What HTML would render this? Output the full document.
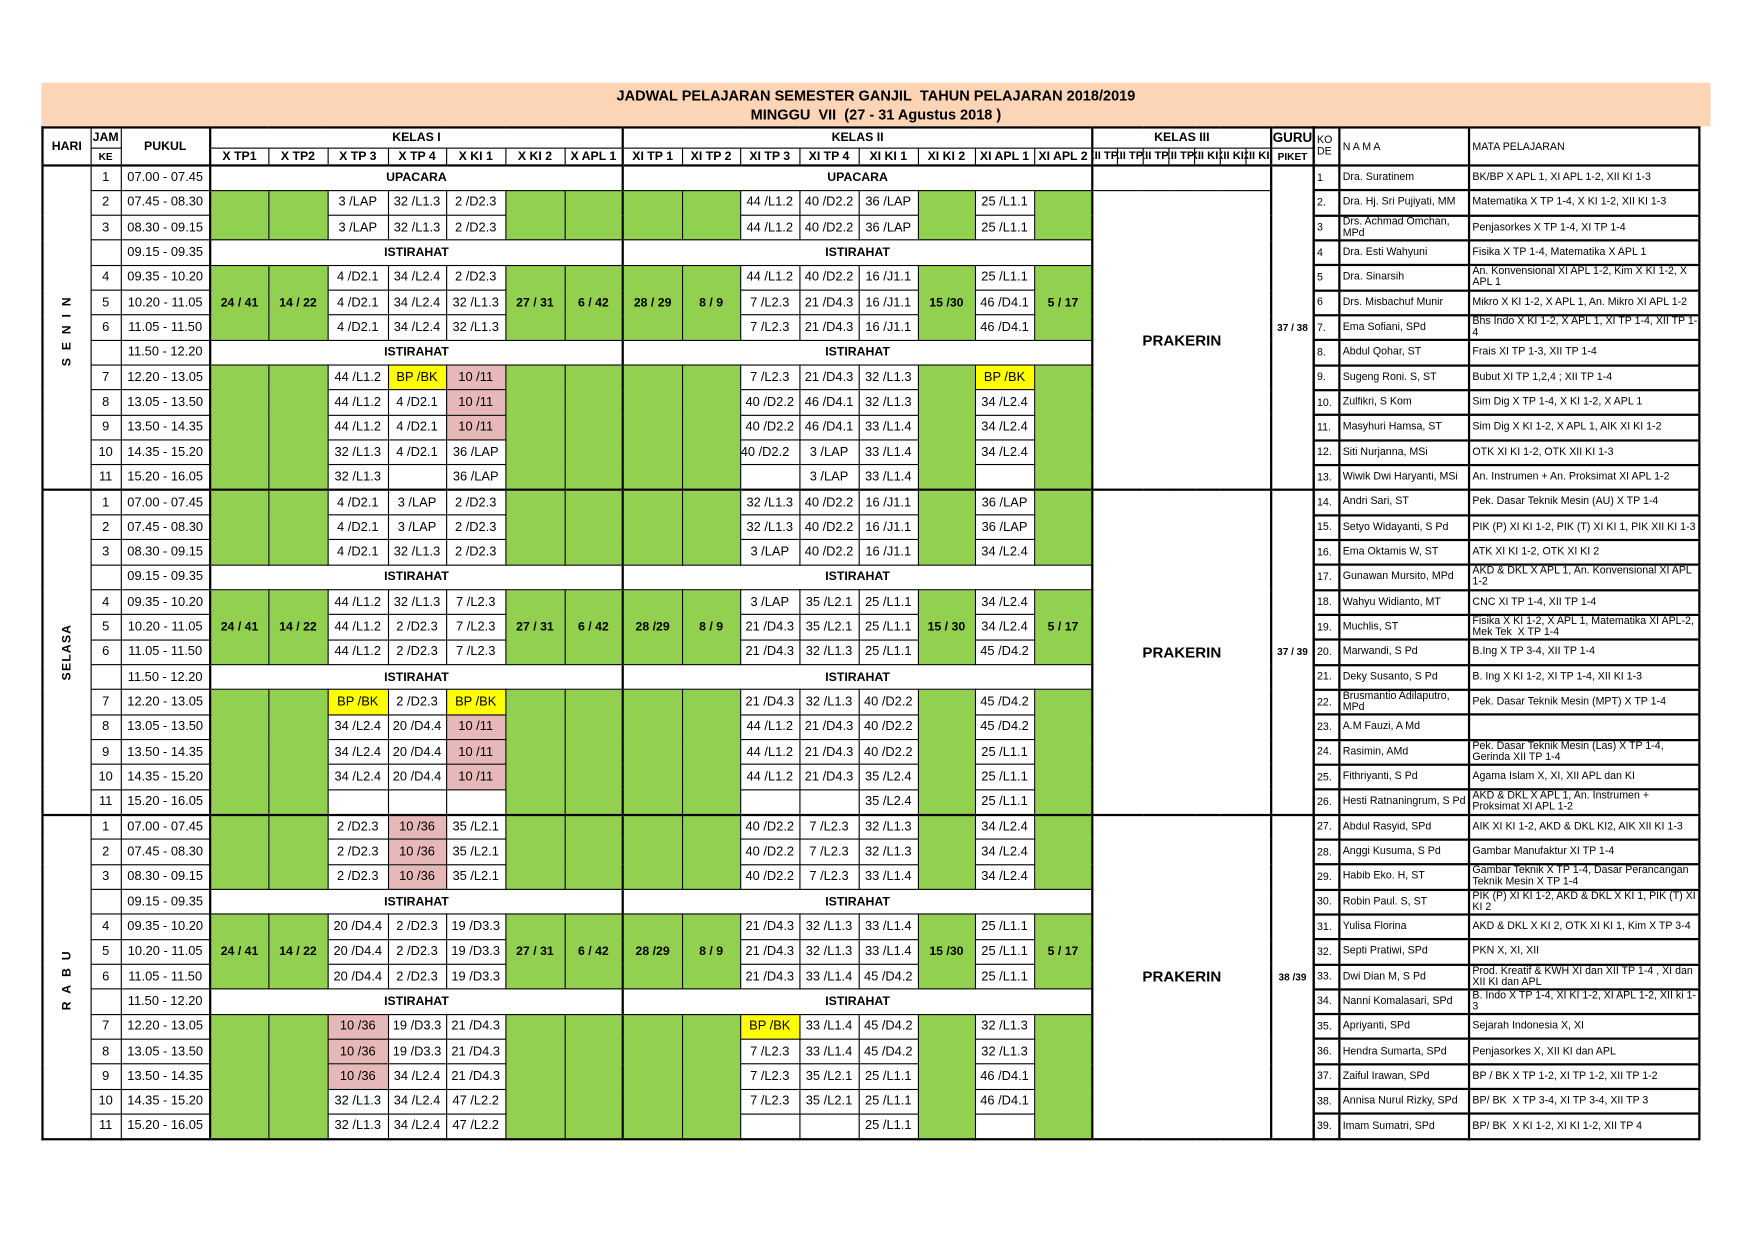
<!DOCTYPE html>
<html><head><meta charset="utf-8">
<style>
html,body{margin:0;padding:0;background:#fff;}
#w{position:absolute;left:0;top:0;width:1568px;height:1109px;transform:scale(1.118);transform-origin:0 0;font-family:"Liberation Sans Narrow","Liberation Sans",sans-serif;}
#band{position:absolute;left:37px;top:74px;width:1493px;height:39px;background:#fbd5b5;}
#t1{position:absolute;left:37px;width:1493px;top:78px;text-align:center;font:bold 13px "Liberation Sans",sans-serif;}
#t2{position:absolute;left:37px;width:1493px;top:95px;text-align:center;font:bold 13px "Liberation Sans",sans-serif;}
table{position:absolute;border-collapse:collapse;table-layout:fixed;}
table.m{left:37px;top:113px;width:1137px;font-size:11.5px;border:2px solid #000;}
table.m td{border:1px solid #000;padding:0;text-align:center;overflow:hidden;white-space:nowrap;}
table.m tr{height:22.33px;}
table.m tr.h1{height:18px;} table.m tr.h2{height:16px;}
.g{background:#92d050}.y{background:#ffff00}.p{background:#e6b8b7}
.b{font-weight:bold;font-family:"Liberation Sans",sans-serif;font-size:11px;}
table.m td.L{border-left:2px solid #000;}
table.m tr.d td{border-top:2px solid #000;}
table.m tr.h2 td{border-bottom:2px solid #000;}
.sm{font-size:9px;font-weight:bold;font-family:"Liberation Sans",sans-serif;}
.k3{font-size:10px;font-weight:bold;}
.k3 div{width:40px;margin-left:-9px;}
.v{writing-mode:vertical-rl;transform:rotate(180deg);margin:auto;font-weight:bold;font-family:"Liberation Sans",sans-serif;font-size:11px;}
.pk{font-size:9px;font-weight:bold;font-family:"Liberation Sans",sans-serif;}
.pr{font-size:13.5px;}
table.t{left:1174px;top:113px;width:345px;font:9.5px "Liberation Sans",sans-serif;border:2px solid #000;}
table.t td{border:1px solid #000;border-bottom:2px solid #000;padding:0 0 0 2px;text-align:left;vertical-align:middle;overflow:hidden;}
table.t td div{max-height:21px;overflow:hidden;line-height:10px;}
table.t tr{height:22.33px;}
table.t td.c2{border-left:2px solid #000;border-right:2px solid #000;}
</style></head><body><div id="w">
<div id="band"></div>
<div id="t1">JADWAL PELAJARAN SEMESTER GANJIL&nbsp; TAHUN PELAJARAN 2018/2019</div>
<div id="t2">MINGGU&nbsp; VII&nbsp; (27 - 31 Agustus 2018 )</div>

<table class="m">
<colgroup><col style="width:43px"><col style="width:27px"><col style="width:80px">
<col style="width:52px"><col style="width:53px"><col style="width:54px"><col style="width:52px"><col style="width:53px"><col style="width:53px"><col style="width:52px">
<col style="width:53px"><col style="width:52px"><col style="width:53px"><col style="width:53px"><col style="width:53px"><col style="width:51px"><col style="width:53px"><col style="width:52px">
<col style="width:22.86px"><col style="width:22.86px"><col style="width:22.86px"><col style="width:22.86px"><col style="width:22.86px"><col style="width:22.86px"><col style="width:22.84px">
<col style="width:38px"></colgroup>
<tr class="h1"><td rowspan="2" class="b">HARI</td><td class="b">JAM</td><td rowspan="2" class="b">PUKUL</td><td colspan="7" class="b L">KELAS I</td><td colspan="8" class="b L">KELAS II</td><td colspan="7" class="b L">KELAS III</td><td class="b L" style="font-size:12px">GURU</td></tr>
<tr class="h2"><td class="sm">KE</td><td class="b L">X TP1</td><td class="b">X TP2</td><td class="b">X TP 3</td><td class="b">X TP 4</td><td class="b">X KI 1</td><td class="b">X KI 2</td><td class="b">X APL 1</td><td class="b L">XI TP 1</td><td class="b">XI TP 2</td><td class="b">XI TP 3</td><td class="b">XI TP 4</td><td class="b">XI KI 1</td><td class="b">XI KI 2</td><td class="b">XI APL 1</td><td class="b">XI APL 2</td><td class="k3 L"><div>XII TP1</div></td><td class="k3"><div>XII TP2</div></td><td class="k3"><div>XII TP3</div></td><td class="k3"><div>XII TP4</div></td><td class="k3"><div>XII KI1</div></td><td class="k3"><div>XII KI2</div></td><td class="k3"><div>XII KI3</div></td><td class="sm L">PIKET</td></tr>

<!-- SENIN -->
<tr class="d"><td rowspan="13"><div class="v" style="letter-spacing:7px">SENIN</div></td><td>1</td><td>07.00 - 07.45</td><td colspan="7" class="b L">UPACARA</td><td colspan="8" class="b L">UPACARA</td><td colspan="7" class="L"></td><td rowspan="13" class="L pk">37 / 38</td></tr>
<tr><td>2</td><td>07.45 - 08.30</td><td rowspan="2" class="g L"></td><td rowspan="2" class="g"></td><td>3 /LAP</td><td>32 /L1.3</td><td>2 /D2.3</td><td rowspan="2" class="g"></td><td rowspan="2" class="g"></td><td rowspan="2" class="g L"></td><td rowspan="2" class="g"></td><td>44 /L1.2</td><td>40 /D2.2</td><td>36 /LAP</td><td rowspan="2" class="g"></td><td>25 /L1.1</td><td rowspan="2" class="g"></td><td colspan="7" rowspan="12" class="L b pr">PRAKERIN</td></tr>
<tr><td>3</td><td>08.30 - 09.15</td><td>3 /LAP</td><td>32 /L1.3</td><td>2 /D2.3</td><td>44 /L1.2</td><td>40 /D2.2</td><td>36 /LAP</td><td>25 /L1.1</td></tr>
<tr><td></td><td>09.15 - 09.35</td><td colspan="7" class="b L">ISTIRAHAT</td><td colspan="8" class="b L">ISTIRAHAT</td></tr>
<tr><td>4</td><td>09.35 - 10.20</td><td rowspan="3" class="g L b">24 / 41</td><td rowspan="3" class="g b">14 / 22</td><td>4 /D2.1</td><td>34 /L2.4</td><td>2 /D2.3</td><td rowspan="3" class="g b">27 / 31</td><td rowspan="3" class="g b">6 / 42</td><td rowspan="3" class="g L b">28 / 29</td><td rowspan="3" class="g b">8 / 9</td><td>44 /L1.2</td><td>40 /D2.2</td><td>16 /J1.1</td><td rowspan="3" class="g b">15 /30</td><td>25 /L1.1</td><td rowspan="3" class="g b">5 / 17</td></tr>
<tr><td>5</td><td>10.20 - 11.05</td><td>4 /D2.1</td><td>34 /L2.4</td><td>32 /L1.3</td><td>7 /L2.3</td><td>21 /D4.3</td><td>16 /J1.1</td><td>46 /D4.1</td></tr>
<tr><td>6</td><td>11.05 - 11.50</td><td>4 /D2.1</td><td>34 /L2.4</td><td>32 /L1.3</td><td>7 /L2.3</td><td>21 /D4.3</td><td>16 /J1.1</td><td>46 /D4.1</td></tr>
<tr><td></td><td>11.50 - 12.20</td><td colspan="7" class="b L">ISTIRAHAT</td><td colspan="8" class="b L">ISTIRAHAT</td></tr>
<tr><td>7</td><td>12.20 - 13.05</td><td rowspan="5" class="g L"></td><td rowspan="5" class="g"></td><td>44 /L1.2</td><td class="y">BP /BK</td><td class="p">10 /11</td><td rowspan="5" class="g"></td><td rowspan="5" class="g"></td><td rowspan="5" class="g L"></td><td rowspan="5" class="g"></td><td>7 /L2.3</td><td>21 /D4.3</td><td>32 /L1.3</td><td rowspan="5" class="g"></td><td class="y">BP /BK</td><td rowspan="5" class="g"></td></tr>
<tr><td>8</td><td>13.05 - 13.50</td><td>44 /L1.2</td><td>4 /D2.1</td><td class="p">10 /11</td><td>40 /D2.2</td><td>46 /D4.1</td><td>32 /L1.3</td><td>34 /L2.4</td></tr>
<tr><td>9</td><td>13.50 - 14.35</td><td>44 /L1.2</td><td>4 /D2.1</td><td class="p">10 /11</td><td>40 /D2.2</td><td>46 /D4.1</td><td>33 /L1.4</td><td>34 /L2.4</td></tr>
<tr><td>10</td><td>14.35 - 15.20</td><td>32 /L1.3</td><td>4 /D2.1</td><td>36 /LAP</td><td style="text-align:left">40 /D2.2</td><td>3 /LAP</td><td>33 /L1.4</td><td>34 /L2.4</td></tr>
<tr><td>11</td><td>15.20 - 16.05</td><td>32 /L1.3</td><td></td><td>36 /LAP</td><td></td><td>3 /LAP</td><td>33 /L1.4</td><td></td></tr>

<!-- SELASA -->
<tr class="d"><td rowspan="13"><div class="v" style="letter-spacing:1px">SELASA</div></td><td>1</td><td>07.00 - 07.45</td><td rowspan="3" class="g L"></td><td rowspan="3" class="g"></td><td>4 /D2.1</td><td>3 /LAP</td><td>2 /D2.3</td><td rowspan="3" class="g"></td><td rowspan="3" class="g"></td><td rowspan="3" class="g L"></td><td rowspan="3" class="g"></td><td>32 /L1.3</td><td>40 /D2.2</td><td>16 /J1.1</td><td rowspan="3" class="g"></td><td>36 /LAP</td><td rowspan="3" class="g"></td><td colspan="7" rowspan="13" class="L b pr">PRAKERIN</td><td rowspan="13" class="L pk">37 / 39</td></tr>
<tr><td>2</td><td>07.45 - 08.30</td><td>4 /D2.1</td><td>3 /LAP</td><td>2 /D2.3</td><td>32 /L1.3</td><td>40 /D2.2</td><td>16 /J1.1</td><td>36 /LAP</td></tr>
<tr><td>3</td><td>08.30 - 09.15</td><td>4 /D2.1</td><td>32 /L1.3</td><td>2 /D2.3</td><td>3 /LAP</td><td>40 /D2.2</td><td>16 /J1.1</td><td>34 /L2.4</td></tr>
<tr><td></td><td>09.15 - 09.35</td><td colspan="7" class="b L">ISTIRAHAT</td><td colspan="8" class="b L">ISTIRAHAT</td></tr>
<tr><td>4</td><td>09.35 - 10.20</td><td rowspan="3" class="g L b">24 / 41</td><td rowspan="3" class="g b">14 / 22</td><td>44 /L1.2</td><td>32 /L1.3</td><td>7 /L2.3</td><td rowspan="3" class="g b">27 / 31</td><td rowspan="3" class="g b">6 / 42</td><td rowspan="3" class="g L b">28 /29</td><td rowspan="3" class="g b">8 / 9</td><td>3 /LAP</td><td>35 /L2.1</td><td>25 /L1.1</td><td rowspan="3" class="g b">15 / 30</td><td>34 /L2.4</td><td rowspan="3" class="g b">5 / 17</td></tr>
<tr><td>5</td><td>10.20 - 11.05</td><td>44 /L1.2</td><td>2 /D2.3</td><td>7 /L2.3</td><td>21 /D4.3</td><td>35 /L2.1</td><td>25 /L1.1</td><td>34 /L2.4</td></tr>
<tr><td>6</td><td>11.05 - 11.50</td><td>44 /L1.2</td><td>2 /D2.3</td><td>7 /L2.3</td><td>21 /D4.3</td><td>32 /L1.3</td><td>25 /L1.1</td><td>45 /D4.2</td></tr>
<tr><td></td><td>11.50 - 12.20</td><td colspan="7" class="b L">ISTIRAHAT</td><td colspan="8" class="b L">ISTIRAHAT</td></tr>
<tr><td>7</td><td>12.20 - 13.05</td><td rowspan="5" class="g L"></td><td rowspan="5" class="g"></td><td class="y">BP /BK</td><td>2 /D2.3</td><td class="y">BP /BK</td><td rowspan="5" class="g"></td><td rowspan="5" class="g"></td><td rowspan="5" class="g L"></td><td rowspan="5" class="g"></td><td>21 /D4.3</td><td>32 /L1.3</td><td>40 /D2.2</td><td rowspan="5" class="g"></td><td>45 /D4.2</td><td rowspan="5" class="g"></td></tr>
<tr><td>8</td><td>13.05 - 13.50</td><td>34 /L2.4</td><td>20 /D4.4</td><td class="p">10 /11</td><td>44 /L1.2</td><td>21 /D4.3</td><td>40 /D2.2</td><td>45 /D4.2</td></tr>
<tr><td>9</td><td>13.50 - 14.35</td><td>34 /L2.4</td><td>20 /D4.4</td><td class="p">10 /11</td><td>44 /L1.2</td><td>21 /D4.3</td><td>40 /D2.2</td><td>25 /L1.1</td></tr>
<tr><td>10</td><td>14.35 - 15.20</td><td>34 /L2.4</td><td>20 /D4.4</td><td class="p">10 /11</td><td>44 /L1.2</td><td>21 /D4.3</td><td>35 /L2.4</td><td>25 /L1.1</td></tr>
<tr><td>11</td><td>15.20 - 16.05</td><td></td><td></td><td></td><td></td><td></td><td>35 /L2.4</td><td>25 /L1.1</td></tr>

<!-- RABU -->
<tr class="d"><td rowspan="13"><div class="v" style="letter-spacing:7px">RABU</div></td><td>1</td><td>07.00 - 07.45</td><td rowspan="3" class="g L"></td><td rowspan="3" class="g"></td><td>2 /D2.3</td><td class="p">10 /36</td><td>35 /L2.1</td><td rowspan="3" class="g"></td><td rowspan="3" class="g"></td><td rowspan="3" class="g L"></td><td rowspan="3" class="g"></td><td>40 /D2.2</td><td>7 /L2.3</td><td>32 /L1.3</td><td rowspan="3" class="g"></td><td>34 /L2.4</td><td rowspan="3" class="g"></td><td colspan="7" rowspan="13" class="L b pr">PRAKERIN</td><td rowspan="13" class="L pk">38 /39</td></tr>
<tr><td>2</td><td>07.45 - 08.30</td><td>2 /D2.3</td><td class="p">10 /36</td><td>35 /L2.1</td><td>40 /D2.2</td><td>7 /L2.3</td><td>32 /L1.3</td><td>34 /L2.4</td></tr>
<tr><td>3</td><td>08.30 - 09.15</td><td>2 /D2.3</td><td class="p">10 /36</td><td>35 /L2.1</td><td>40 /D2.2</td><td>7 /L2.3</td><td>33 /L1.4</td><td>34 /L2.4</td></tr>
<tr><td></td><td>09.15 - 09.35</td><td colspan="7" class="b L">ISTIRAHAT</td><td colspan="8" class="b L">ISTIRAHAT</td></tr>
<tr><td>4</td><td>09.35 - 10.20</td><td rowspan="3" class="g L b">24 / 41</td><td rowspan="3" class="g b">14 / 22</td><td>20 /D4.4</td><td>2 /D2.3</td><td>19 /D3.3</td><td rowspan="3" class="g b">27 / 31</td><td rowspan="3" class="g b">6 / 42</td><td rowspan="3" class="g L b">28 /29</td><td rowspan="3" class="g b">8 / 9</td><td>21 /D4.3</td><td>32 /L1.3</td><td>33 /L1.4</td><td rowspan="3" class="g b">15 /30</td><td>25 /L1.1</td><td rowspan="3" class="g b">5 / 17</td></tr>
<tr><td>5</td><td>10.20 - 11.05</td><td>20 /D4.4</td><td>2 /D2.3</td><td>19 /D3.3</td><td>21 /D4.3</td><td>32 /L1.3</td><td>33 /L1.4</td><td>25 /L1.1</td></tr>
<tr><td>6</td><td>11.05 - 11.50</td><td>20 /D4.4</td><td>2 /D2.3</td><td>19 /D3.3</td><td>21 /D4.3</td><td>33 /L1.4</td><td>45 /D4.2</td><td>25 /L1.1</td></tr>
<tr><td></td><td>11.50 - 12.20</td><td colspan="7" class="b L">ISTIRAHAT</td><td colspan="8" class="b L">ISTIRAHAT</td></tr>
<tr><td>7</td><td>12.20 - 13.05</td><td rowspan="5" class="g L"></td><td rowspan="5" class="g"></td><td class="p">10 /36</td><td>19 /D3.3</td><td>21 /D4.3</td><td rowspan="5" class="g"></td><td rowspan="5" class="g"></td><td rowspan="5" class="g L"></td><td rowspan="5" class="g"></td><td class="y">BP /BK</td><td>33 /L1.4</td><td>45 /D4.2</td><td rowspan="5" class="g"></td><td>32 /L1.3</td><td rowspan="5" class="g"></td></tr>
<tr><td>8</td><td>13.05 - 13.50</td><td class="p">10 /36</td><td>19 /D3.3</td><td>21 /D4.3</td><td>7 /L2.3</td><td>33 /L1.4</td><td>45 /D4.2</td><td>32 /L1.3</td></tr>
<tr><td>9</td><td>13.50 - 14.35</td><td class="p">10 /36</td><td>34 /L2.4</td><td>21 /D4.3</td><td>7 /L2.3</td><td>35 /L2.1</td><td>25 /L1.1</td><td>46 /D4.1</td></tr>
<tr><td>10</td><td>14.35 - 15.20</td><td>32 /L1.3</td><td>34 /L2.4</td><td>47 /L2.2</td><td>7 /L2.3</td><td>35 /L2.1</td><td>25 /L1.1</td><td>46 /D4.1</td></tr>
<tr><td>11</td><td>15.20 - 16.05</td><td>32 /L1.3</td><td>34 /L2.4</td><td>47 /L2.2</td><td></td><td></td><td>25 /L1.1</td><td></td></tr>
</table>

<table class="t">
<colgroup><col style="width:23px"><col style="width:116px"><col style="width:206px"></colgroup>
<tr style="height:34px"><td><div>KO<br>DE</div></td><td class="c2">N A M A</td><td>MATA PELAJARAN</td></tr>
<tr><td>1</td><td class="c2"><div>Dra. Suratinem</div></td><td><div>BK/BP X APL 1, XI APL 1-2, XII KI 1-3</div></td></tr>
<tr><td>2.</td><td class="c2"><div>Dra. Hj. Sri Pujiyati, MM</div></td><td><div>Matematika X TP 1-4, X KI 1-2, XII KI 1-3</div></td></tr>
<tr><td>3</td><td class="c2"><div>Drs. Achmad Omchan, MPd</div></td><td><div>Penjasorkes X TP 1-4, XI TP 1-4</div></td></tr>
<tr><td>4</td><td class="c2"><div>Dra. Esti Wahyuni</div></td><td><div>Fisika X TP 1-4, Matematika X APL 1</div></td></tr>
<tr><td>5</td><td class="c2"><div>Dra. Sinarsih</div></td><td><div>An. Konvensional XI APL 1-2, Kim X KI 1-2, X APL 1</div></td></tr>
<tr><td>6</td><td class="c2"><div>Drs. Misbachuf Munir</div></td><td><div>Mikro X KI 1-2, X APL 1, An. Mikro XI APL 1-2</div></td></tr>
<tr><td>7.</td><td class="c2"><div>Ema Sofiani, SPd</div></td><td><div>Bhs Indo X KI 1-2, X APL 1, XI TP 1-4, XII TP 1-4</div></td></tr>
<tr><td>8.</td><td class="c2"><div>Abdul Qohar, ST</div></td><td><div>Frais XI TP 1-3, XII TP 1-4</div></td></tr>
<tr><td>9.</td><td class="c2"><div>Sugeng Roni. S, ST</div></td><td><div>Bubut XI TP 1,2,4 ; XII TP 1-4</div></td></tr>
<tr><td>10.</td><td class="c2"><div>Zulfikri, S Kom</div></td><td><div>Sim Dig X TP 1-4, X KI 1-2, X APL 1</div></td></tr>
<tr><td>11.</td><td class="c2"><div>Masyhuri Hamsa, ST</div></td><td><div>Sim Dig X KI 1-2, X APL 1, AIK XI KI 1-2</div></td></tr>
<tr><td>12.</td><td class="c2"><div>Siti Nurjanna, MSi</div></td><td><div>OTK XI KI 1-2, OTK XII KI 1-3</div></td></tr>
<tr><td>13.</td><td class="c2"><div>Wiwik Dwi Haryanti, MSi</div></td><td><div>An. Instrumen + An. Proksimat XI APL 1-2</div></td></tr>
<tr><td>14.</td><td class="c2"><div>Andri Sari, ST</div></td><td><div>Pek. Dasar Teknik Mesin (AU) X TP 1-4</div></td></tr>
<tr><td>15.</td><td class="c2"><div>Setyo Widayanti, S Pd</div></td><td><div>PIK (P) XI KI 1-2, PIK (T) XI KI 1, PIK XII KI 1-3</div></td></tr>
<tr><td>16.</td><td class="c2"><div>Ema Oktamis W, ST</div></td><td><div>ATK XI KI 1-2, OTK XI KI 2</div></td></tr>
<tr><td>17.</td><td class="c2"><div>Gunawan Mursito, MPd</div></td><td><div>AKD &amp; DKL X APL 1, An. Konvensional XI APL 1-2</div></td></tr>
<tr><td>18.</td><td class="c2"><div>Wahyu Widianto, MT</div></td><td><div>CNC XI TP 1-4, XII TP 1-4</div></td></tr>
<tr><td>19.</td><td class="c2"><div>Muchlis, ST</div></td><td><div>Fisika X KI 1-2, X APL 1, Matematika XI APL-2, Mek Tek&nbsp; X TP 1-4</div></td></tr>
<tr><td>20.</td><td class="c2"><div>Marwandi, S Pd</div></td><td><div>B.Ing X TP 3-4, XII TP 1-4</div></td></tr>
<tr><td>21.</td><td class="c2"><div>Deky Susanto, S Pd</div></td><td><div>B. Ing X KI 1-2, XI TP 1-4, XII KI 1-3</div></td></tr>
<tr><td>22.</td><td class="c2"><div>Brusmantio Adilaputro, MPd</div></td><td><div>Pek. Dasar Teknik Mesin (MPT) X TP 1-4</div></td></tr>
<tr><td>23.</td><td class="c2"><div>A.M Fauzi, A Md</div></td><td></td></tr>
<tr><td>24.</td><td class="c2"><div>Rasimin, AMd</div></td><td><div>Pek. Dasar Teknik Mesin (Las) X TP 1-4, Gerinda XII TP 1-4</div></td></tr>
<tr><td>25.</td><td class="c2"><div>Fithriyanti, S Pd</div></td><td><div>Agama Islam X, XI, XII APL dan KI</div></td></tr>
<tr><td>26.</td><td class="c2"><div>Hesti Ratnaningrum, S Pd</div></td><td><div>AKD &amp; DKL X APL 1, An. Instrumen + Proksimat XI APL 1-2</div></td></tr>
<tr><td>27.</td><td class="c2"><div>Abdul Rasyid, SPd</div></td><td><div>AIK XI KI 1-2, AKD &amp; DKL KI2, AIK XII KI 1-3</div></td></tr>
<tr><td>28.</td><td class="c2"><div>Anggi Kusuma, S Pd</div></td><td><div>Gambar Manufaktur XI TP 1-4</div></td></tr>
<tr><td>29.</td><td class="c2"><div>Habib Eko. H, ST</div></td><td><div>Gambar Teknik X TP 1-4, Dasar Perancangan Teknik Mesin X TP 1-4</div></td></tr>
<tr><td>30.</td><td class="c2"><div>Robin Paul. S, ST</div></td><td><div>PIK (P) XI KI 1-2, AKD &amp; DKL X KI 1, PIK (T) XI KI 2</div></td></tr>
<tr><td>31.</td><td class="c2"><div>Yulisa Florina</div></td><td><div>AKD &amp; DKL X KI 2, OTK XI KI 1, Kim X TP 3-4</div></td></tr>
<tr><td>32.</td><td class="c2"><div>Septi Pratiwi, SPd</div></td><td><div>PKN X, XI, XII</div></td></tr>
<tr><td>33.</td><td class="c2"><div>Dwi Dian M, S Pd</div></td><td><div>Prod. Kreatif &amp; KWH XI dan XII TP 1-4 , XI dan XII KI dan APL</div></td></tr>
<tr><td>34.</td><td class="c2"><div>Nanni Komalasari, SPd</div></td><td><div>B. Indo X TP 1-4, XI KI 1-2, XI APL 1-2, XII ki 1-3</div></td></tr>
<tr><td>35.</td><td class="c2"><div>Apriyanti, SPd</div></td><td><div>Sejarah Indonesia X, XI</div></td></tr>
<tr><td>36.</td><td class="c2"><div>Hendra Sumarta, SPd</div></td><td><div>Penjasorkes X, XII KI dan APL</div></td></tr>
<tr><td>37.</td><td class="c2"><div>Zaiful Irawan, SPd</div></td><td><div>BP / BK X TP 1-2, XI TP 1-2, XII TP 1-2</div></td></tr>
<tr><td>38.</td><td class="c2"><div>Annisa Nurul Rizky, SPd</div></td><td><div>BP/ BK&nbsp; X TP 3-4, XI TP 3-4, XII TP 3</div></td></tr>
<tr><td>39.</td><td class="c2"><div>Imam Sumatri, SPd</div></td><td><div>BP/ BK&nbsp; X KI 1-2, XI KI 1-2, XII TP 4</div></td></tr>
</table>
</div></body></html>
